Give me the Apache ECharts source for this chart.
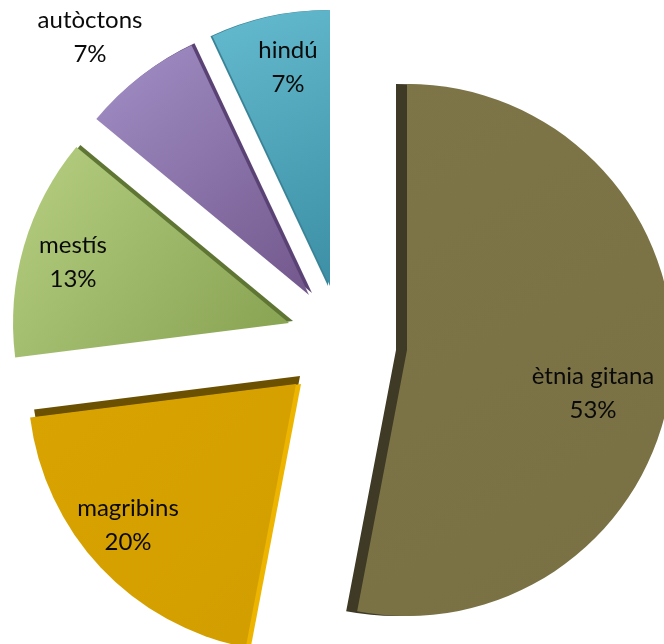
<!DOCTYPE html>
<html>
<head>
<meta charset="utf-8">
<script src="https://cdn.jsdelivr.net/npm/echarts@6/dist/echarts.min.js"></script>
<style>
  html, body { margin: 0; padding: 0; background: #fff; }
  #chart { width: 664px; height: 644px; }
</style>
</head>
<body>
<div id="chart"></div>
<script>
// categories and shares (%)
const names = ['ètnia gitana', 'magribins', 'mestís', 'autòctons', 'hindú'];
const values = [53, 20, 13, 7, 7];

// layout per slice (exploded pie, each slice has its own apex)
const apex = [[407, 350], [296, 384], [289, 323], [309, 295], [330, 286]];
const radii = [266, 268, 276, 276, 276];
const labelPos = [[593, 393], [128, 525], [73, 262], [90, 37], [288, 67]];

const grad = (a, b) => new echarts.graphic.LinearGradient(0, 0, 1, 1, [
    { offset: 0, color: a },
    { offset: 1, color: b },
]);
const topColors = [
    grad('#7D7548', '#797144'),
    grad('#D9A400', '#D29E00'),
    grad('#B6CF82', '#86A150'),
    grad('#A290C6', '#72578C'),
    grad('#64BACE', '#3C8FA4'),
];
// side faces: [sliceIndex, dx, dy, color]
const sides = [
    [0, -11, 0, '#3F3A25'],
    [1, 4, -8, '#6A5000'],
    [1, 5, 0, '#EDB500'],
    [2, 4, -2, '#5E7534'],
    [3, 3, -2, '#5A4374'],
    [4, -2, 0, '#3A8396'],
];

const chart = echarts.init(document.getElementById('chart'));

const sliceSeries = (idx, cx, cy, color, z, withLabel) => ({
    type: 'pie',
    z: z,
    silent: true,
    animation: false,
    center: [cx, cy],
    radius: radii[idx],
    startAngle: 90,
    clockwise: true,
    avoidLabelOverlap: false,
    percentPrecision: 0,
    emphasis: { disabled: true },
    itemStyle: { borderWidth: 0 },
    labelLine: { show: false },
    label: {
        show: false,
        position: 'inside',
        formatter: '{b}\n{d}%',
        color: '#0a0a0a',
        fontFamily: 'Lato',
        fontSize: 24,
        lineHeight: 34,
        align: 'center',
        verticalAlign: 'middle',
    },
    labelLayout: withLabel ? { x: labelPos[idx][0], y: labelPos[idx][1], align: 'center', verticalAlign: 'middle' } : undefined,
    data: names.map((n, j) => ({
        name: n,
        value: values[j],
        itemStyle: { color: j === idx ? color : 'rgba(0,0,0,0)' },
        label: { show: withLabel && j === idx },
    })),
});

const series = [];
sides.forEach(([i, dx, dy, c]) => {
    series.push(sliceSeries(i, apex[i][0] + dx, apex[i][1] + dy, c, 1, false));
});
names.forEach((n, i) => {
    series.push(sliceSeries(i, apex[i][0], apex[i][1], topColors[i], 2, true));
});

chart.setOption({
    backgroundColor: '#ffffff',
    series: series,
});
</script>
</body>
</html>
